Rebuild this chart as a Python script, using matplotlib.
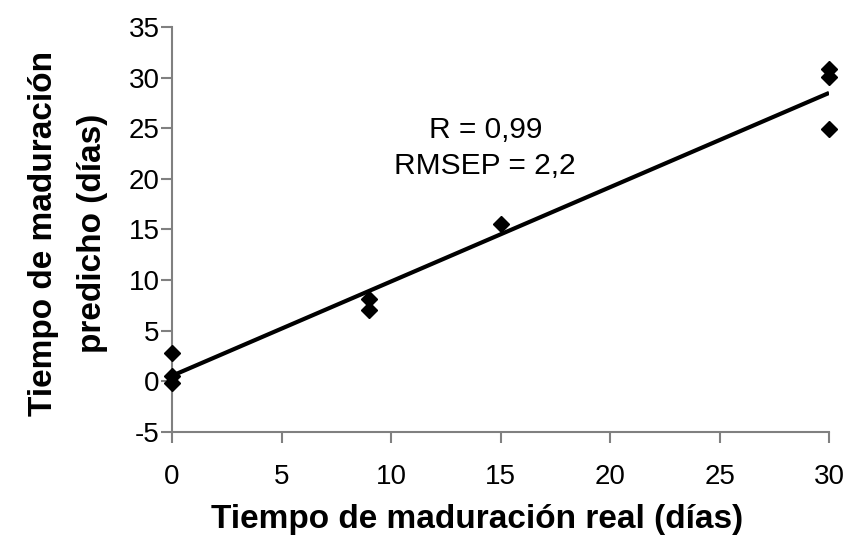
import numpy as np
import matplotlib.pyplot as plt

plt.rcParams['font.family'] = ['Liberation Sans', 'DejaVu Sans']
plt.rcParams['axes.unicode_minus'] = False

# real vs predicted ripening time (days)
real_days = [0, 0, 0, 9, 9, 15, 30, 30, 30]
pred_days = [2.8, 0.5, -0.2, 8.1, 7.0, 15.5, 30.8, 30.1, 24.9]
r_text = "R = 0,99"
rmsep_text = "RMSEP = 2,2"

x = np.array(real_days)
y = np.array(pred_days)
slope, intercept = np.polyfit(x, y, 1)

fig = plt.figure(figsize=(8.46, 5.39), dpi=100)
ax = fig.add_axes([0.2033, 0.1985, 0.7767, 0.7515])

ax.plot(x, y, linestyle='none', marker='D', color='black', markersize=8, clip_on=False, zorder=3)
xl = np.array([0, 30])
ax.plot(xl, slope * xl + intercept, color='black', linewidth=3, solid_capstyle='butt', zorder=2)

ax.set_xlim(0, 30)
ax.set_ylim(-5, 35)
ax.set_xticks(np.arange(0, 31, 5))
ax.set_yticks(np.arange(-5, 36, 5))

for side in ['top', 'right']:
    ax.spines[side].set_visible(False)
for side in ['left', 'bottom']:
    ax.spines[side].set_color('#808080')
    ax.spines[side].set_linewidth(1.5)
ax.tick_params(direction='out', length=8, width=1.5, color='#808080', labelsize=20)
ax.tick_params(axis='x', pad=15)
ax.tick_params(axis='y', pad=1)

ax.set_xlabel('Tiempo de maduración real (días)', fontsize=24, fontweight='bold')
ax.xaxis.set_label_coords(0.464, -0.178)
ax.set_ylabel('Tiempo de maduración\npredicho (días)', fontsize=24, fontweight='bold',
              linespacing=1.75)
ax.yaxis.set_label_coords(-0.097, 0.49)

ax.text(14.3, 24.8, r_text, fontsize=21.5, ha='center', va='center')
ax.text(14.3, 21.3, rmsep_text, fontsize=21.5, ha='center', va='center')

fig.savefig('out.png', dpi=100)
